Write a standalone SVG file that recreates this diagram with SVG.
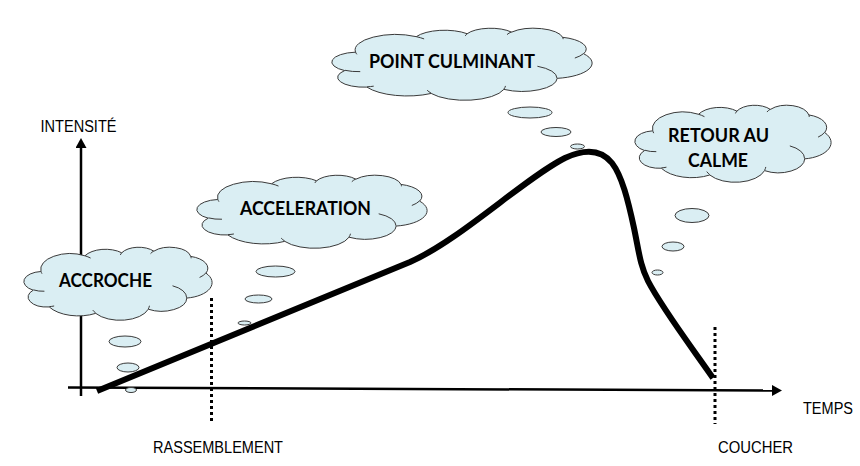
<svg xmlns="http://www.w3.org/2000/svg" xmlns:xlink="http://www.w3.org/1999/xlink" width="860" height="466" viewBox="0 0 860 466">
  <style>
    .cloud { fill: #DAEEF3; stroke: #3a3a3a; stroke-width: 1; vector-effect: non-scaling-stroke; }
    .cloud-inner { fill: none; stroke: #3a3a3a; stroke-width: 1; vector-effect: non-scaling-stroke; }
    .bubble { fill: #DAEEF3; stroke: #3a3a3a; stroke-width: 1; }
    .label { font-family: Lato, "Open Sans", "DejaVu Sans", sans-serif; font-weight: bold; font-size: 19px; fill: #000; }
    .axis-text { font-family: "Liberation Sans", Arial, sans-serif; font-size: 16px; fill: #000; }
    .axis { stroke: #000; stroke-width: 2.5; fill: none; }
    .marker-line { stroke: #000; stroke-width: 3; stroke-dasharray: 3 3; fill: none; }
    .curve { stroke: #000; stroke-width: 6; fill: none; stroke-linecap: butt; stroke-linejoin: round; }
  </style>
  <defs>
    <marker id="arrow" markerUnits="userSpaceOnUse" markerWidth="11" markerHeight="11" refX="2" refY="5.5" orient="auto">
      <path d="M0,0 L10,5.5 L0,11 Z" fill="#000"/>
    </marker>
    <!-- cloud outline in a 100 x 100 box -->
    <path id="cloudShape" class="cloud" d="M9.03,33.26 A15.63,21.27 0 0 1 32.42,12.04 A12.34,16.82 0 0 1 51.99,7.95 A10.10,13.76 0 0 1 69.06,5.75 A11.24,15.27 0 0 1 88.70,12.92 A12.34,16.84 0 0 1 96.80,35.80 A15.68,21.34 0 0 1 86.59,69.93 A13.39,18.21 0 0 1 66.10,85.23 A15.63,21.33 0 0 1 38.15,90.90 A17.87,24.41 0 0 1 13.43,82.11 A10.09,13.70 0 0 1 4.89,59.14 A10.06,13.76 0 0 1 8.95,33.58 Z"/>
    <!-- inner creases of the cloud lobes -->
    <path id="cloudCreases" class="cloud-inner" d="M10.86,60.59 A10.06,13.76 0 0 1 5.00,58.75 M16.04,80.78 A10.09,13.70 0 0 1 13.47,81.67 M38.14,90.49 A15.63,21.33 0 0 1 36.60,86.46 M66.73,80.44 A15.63,21.33 0 0 1 66.11,84.86 M79.00,53.13 A13.39,18.21 0 0 1 86.53,69.65 M96.75,35.54 A12.34,16.84 0 0 1 93.40,41.74 M88.71,12.56 A11.24,15.27 0 0 1 88.89,15.49 M67.31,9.15 A11.24,15.27 0 0 1 69.03,5.41 M51.25,10.93 A10.10,13.76 0 0 1 52.08,7.71 M32.41,12.02 A15.63,21.27 0 0 1 35.43,15.15 M9.55,36.55 A15.63,21.27 0 0 1 9.03,33.26"/>
  </defs>

  <rect width="860" height="466" fill="#fff"/>

  <!-- axes -->
  <g id="axes">
    <path class="axis" d="M81,396 L81,146" marker-end="url(#arrow)"/>
    <path class="axis" d="M68,387.5 L774,390.5" marker-end="url(#arrow)"/>
    <text class="axis-text" x="40.5" y="132" textLength="76" lengthAdjust="spacingAndGlyphs">INTENSITÉ</text>
    <text class="axis-text" x="803" y="414" textLength="50" lengthAdjust="spacingAndGlyphs">TEMPS</text>
  </g>

  <!-- time markers -->
  <g id="rassemblement">
    <line class="marker-line" x1="211.5" y1="298" x2="211.5" y2="424"/>
    <text class="axis-text" x="153" y="453" textLength="130" lengthAdjust="spacingAndGlyphs">RASSEMBLEMENT</text>
  </g>
  <g id="coucher">
    <line class="marker-line" x1="715" y1="327" x2="715" y2="424"/>
    <text class="axis-text" x="718" y="453" textLength="75" lengthAdjust="spacingAndGlyphs">COUCHER</text>
  </g>

  <!-- thought clouds -->
  <g id="accroche">
    <use xlink:href="#cloudShape" transform="translate(24,247) scale(1.88,0.73)"/>
    <use xlink:href="#cloudCreases" transform="translate(24,247) scale(1.88,0.73)"/>
    <ellipse class="bubble" cx="125" cy="341.5" rx="16" ry="5.5"/>
    <ellipse class="bubble" cx="128" cy="367.5" rx="11" ry="4.5"/>
    <ellipse class="bubble" cx="131" cy="390" rx="5.5" ry="2.5"/>
    <text class="label" x="59" y="287" textLength="93" lengthAdjust="spacingAndGlyphs">ACCROCHE</text>
  </g>
  <g id="acceleration">
    <use xlink:href="#cloudShape" transform="translate(197,175) scale(2.30,0.73)"/>
    <use xlink:href="#cloudCreases" transform="translate(197,175) scale(2.30,0.73)"/>
    <ellipse class="bubble" cx="275.5" cy="271.5" rx="19.5" ry="5.5"/>
    <ellipse class="bubble" cx="258.5" cy="299" rx="13.5" ry="4"/>
    <ellipse class="bubble" cx="244.5" cy="323" rx="6.5" ry="2"/>
    <text class="label" x="240" y="215" textLength="131" lengthAdjust="spacingAndGlyphs">ACCELERATION</text>
  </g>
  <g id="point-culminant">
    <use xlink:href="#cloudShape" transform="translate(332,28) scale(2.60,0.72)"/>
    <use xlink:href="#cloudCreases" transform="translate(332,28) scale(2.60,0.72)"/>
    <ellipse class="bubble" cx="530" cy="112.5" rx="22" ry="5.5"/>
    <ellipse class="bubble" cx="556" cy="132" rx="15" ry="4.5"/>
    <ellipse class="bubble" cx="577.5" cy="146.5" rx="7" ry="2.5"/>
    <text class="label" x="369" y="68" textLength="166" lengthAdjust="spacingAndGlyphs">POINT CULMINANT</text>
  </g>
  <g id="retour-au-calme">
    <use xlink:href="#cloudShape" transform="translate(635,105) scale(1.96,0.77)"/>
    <use xlink:href="#cloudCreases" transform="translate(635,105) scale(1.96,0.77)"/>
    <ellipse class="bubble" cx="692" cy="215.5" rx="17" ry="7"/>
    <ellipse class="bubble" cx="673" cy="246.5" rx="11" ry="4.5"/>
    <ellipse class="bubble" cx="657.5" cy="272.5" rx="5.5" ry="2.5"/>
    <text class="label" x="668" y="142" textLength="101" lengthAdjust="spacingAndGlyphs">RETOUR AU</text>
    <text class="label" x="688" y="167" textLength="60" lengthAdjust="spacingAndGlyphs">CALME</text>
  </g>

  <!-- intensity curve -->
  <g id="connectors">
    <path class="curve" d="M97,391 L410,262 C460,240 525,178 565,158 C582,150 600,148 612,163 C622,176 628,200 634,228 C639,252 640,265 648,281 C662,308 690,345 713,378"/>
  </g>
</svg>
